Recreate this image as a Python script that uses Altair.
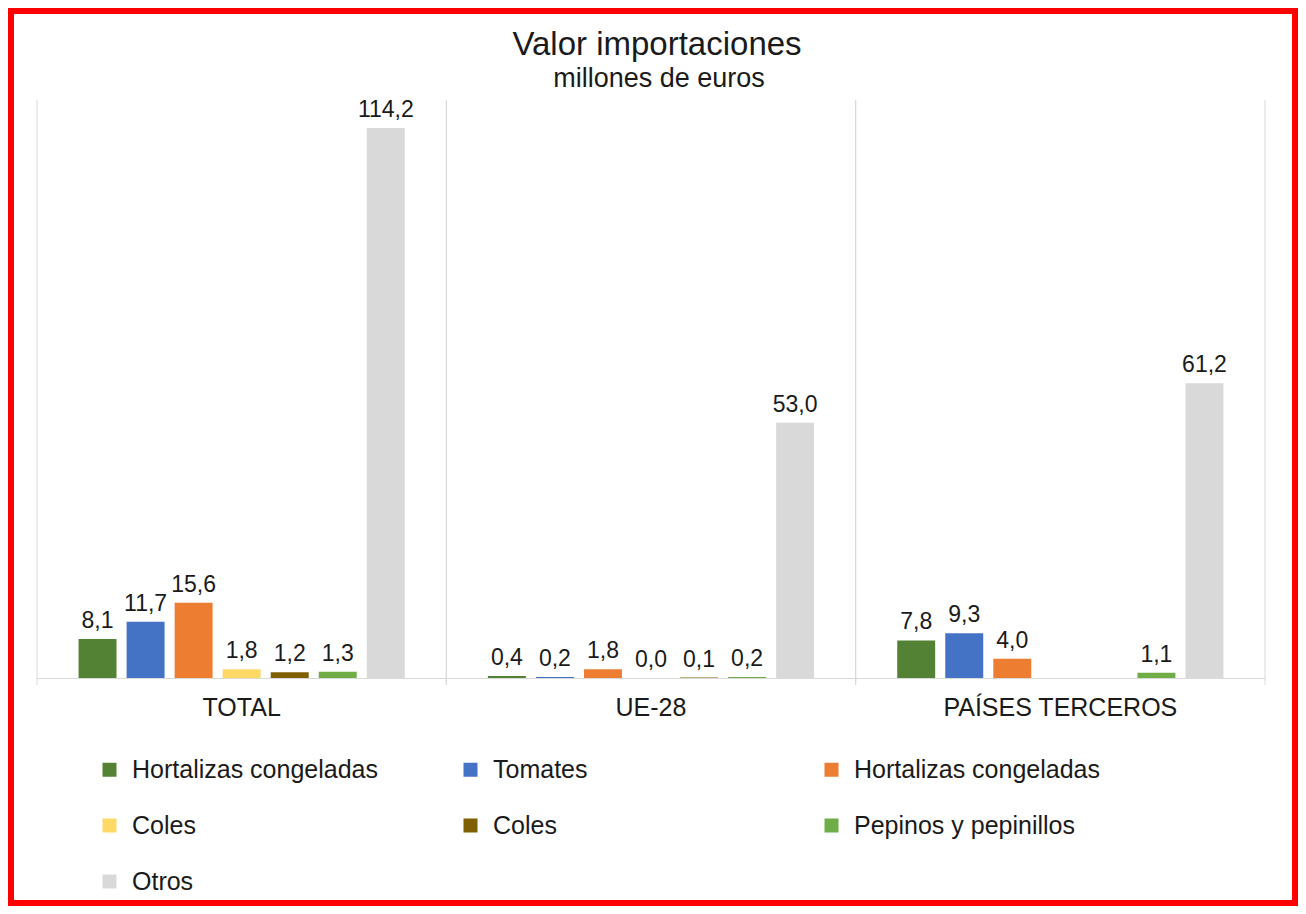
import altair as alt
import pandas as pd

# ---------------- data ----------------
groups = ["TOTAL", "UE-28", "PAÍSES TERCEROS"]
series_keys = ["s1", "s2", "s3", "s4", "s5", "s6", "s7"]
series_names = ["Hortalizas congeladas", "Tomates", "Hortalizas congeladas",
                "Coles", "Coles", "Pepinos y pepinillos", "Otros"]
series_colors = ["#548235", "#4472C4", "#ED7D31", "#FFD966",
                 "#7F6000", "#70AD47", "#D9D9D9"]
total_values = [8.1, 11.7, 15.6, 1.8, 1.2, 1.3, 114.2]
ue28_values = [0.4, 0.2, 1.8, 0.0, 0.1, 0.2, 53.0]
terceros_values = [7.8, 9.3, 4.0, None, None, 1.1, 61.2]

rows = []
for g, vals in zip(groups, [total_values, ue28_values, terceros_values]):
    for k, v in zip(series_keys, vals):
        if v is not None:
            rows.append({"grupo": g, "serie": k, "valor": v})
df = pd.DataFrame(rows)

# ---------------- layout ----------------
W, H = 1228, 578
PAD_L, PAD_T = 29, 92
TOTAL_W, TOTAL_H = 1290, 898
PAD_R = TOTAL_W - PAD_L - W
PAD_B = TOTAL_H - PAD_T - H
FONT = "Liberation Sans"
TXT = "#1a1a1a"

label_expr = ("[" + ",".join("'%s'" % n for n in series_names) + "][indexof(["
              + ",".join("'%s'" % k for k in series_keys) + "], datum.value)]")

x_axis = alt.Axis(title=None, ticks=False, grid=False, domain=True,
                  domainColor="#D9D9D9", domainWidth=1,
                  labelFont=FONT, labelFontSize=25, labelColor=TXT,
                  labelPadding=17, labelAngle=0, labelLimit=500)
x_scale = alt.Scale(domain=groups, paddingInner=0, paddingOuter=0)

x_enc = alt.X("grupo:N", sort=groups, scale=x_scale, axis=x_axis)
xoff_enc = alt.XOffset("serie:N",
                       scale=alt.Scale(domain=series_keys, paddingInner=0.21,
                                       paddingOuter=0.865))
y_enc = alt.Y("valor:Q", scale=alt.Scale(domain=[0, 120]), axis=None)

color_enc = alt.Color(
    "serie:N",
    scale=alt.Scale(domain=series_keys, range=series_colors),
    legend=alt.Legend(
        title=None, orient="none", legendX=60, legendY=657,
        direction="horizontal",
        columns=3, gridAlign="all", columnPadding=80, rowPadding=30,
        symbolType="square", symbolSize=196, symbolStrokeWidth=0,
        labelFont=FONT, labelFontSize=25, labelColor=TXT,
        labelOffset=10, labelLimit=500, labelExpr=label_expr, padding=0,
    ),
)

base = alt.Chart(df).encode(x=x_enc, xOffset=xoff_enc, y=y_enc)
bars = base.mark_bar().encode(color=color_enc)
labels = base.mark_text(baseline="alphabetic", dy=-11, fontSize=23,
                        font=FONT, color=TXT).transform_calculate(
    label="replace(format(datum.valor, '.1f'), '.', ',')"
).encode(text="label:N")

grid_df = pd.DataFrame({"grupo": groups})
rules_start = alt.Chart(grid_df).mark_rule(color="#D9D9D9", strokeWidth=1).encode(
    x=alt.X("grupo:N", sort=groups, bandPosition=0, scale=x_scale, axis=x_axis),
    y=alt.value(0), y2=alt.value(H + 7))
rules_end = alt.Chart(grid_df).mark_rule(color="#D9D9D9", strokeWidth=1).encode(
    x=alt.X("grupo:N", sort=groups, bandPosition=1, scale=x_scale, axis=x_axis),
    y=alt.value(0), y2=alt.value(H + 7))

title_df = pd.DataFrame({"t": ["Valor importaciones"]})
subtitle_df = pd.DataFrame({"t": ["millones de euros"]})
title = alt.Chart(title_df).mark_text(fontSize=33, font=FONT, color=TXT,
                                      align="center", baseline="alphabetic").encode(
    x=alt.value(620), y=alt.value(-45), text="t:N")
subtitle = alt.Chart(subtitle_df).mark_text(fontSize=27, font=FONT, color=TXT,
                                            align="center", baseline="alphabetic").encode(
    x=alt.value(622), y=alt.value(-13), text="t:N")

border = alt.Chart(pd.DataFrame({"a": [0]})).mark_rect(
    fillOpacity=0, stroke="#FF0000", strokeWidth=6).encode(
    x=alt.value(-PAD_L + 3), x2=alt.value(W + PAD_R - 3),
    y=alt.value(-PAD_T + 3), y2=alt.value(H + PAD_B - 3))

chart = alt.layer(rules_start, rules_end, bars, labels, title, subtitle, border).properties(
    width=W, height=H,
    padding={"left": PAD_L, "top": PAD_T, "right": PAD_R, "bottom": PAD_B},
    autosize=alt.AutoSizeParams(type="none"),
    background="white",
).configure_view(strokeWidth=0)

chart.save("out.html", embed_options={"renderer": "svg", "actions": False})
